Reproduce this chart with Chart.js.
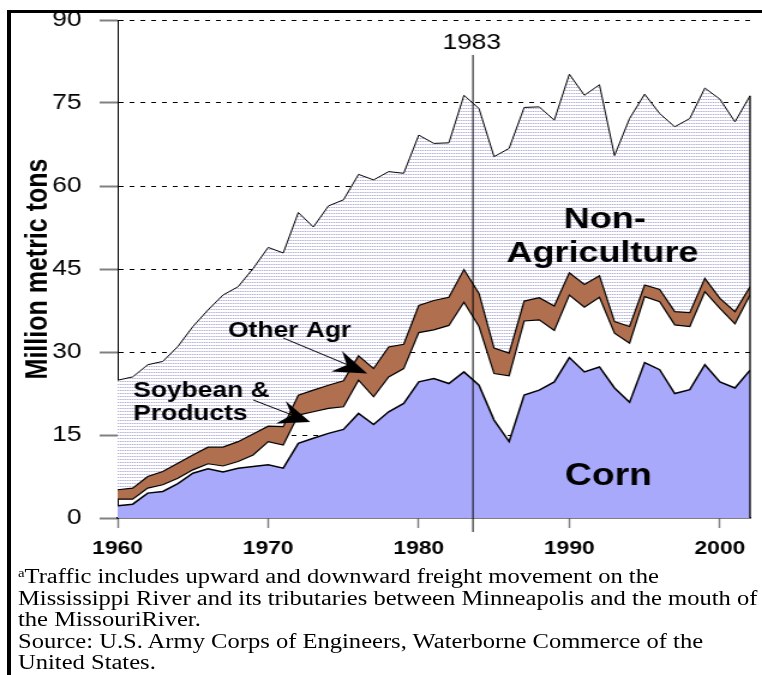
<!DOCTYPE html>
<html>
<head>
<meta charset="utf-8">
<script src="https://cdn.jsdelivr.net/npm/chart.js@4.4.1/dist/chart.umd.min.js"></script>
<style>
  body { margin: 0; background: #fff; }
  #wrap { position: relative; width: 762px; height: 675px; overflow: hidden; background: #fff; }
  #frame { position: absolute; left: 7px; top: 10px; right: -10px; bottom: -10px;
           border-left: 4px solid #000; border-top: 3px solid #000; pointer-events: none; }
  #note { position: absolute; left: 18px; top: 563px; white-space: nowrap;
          font: 20px "Liberation Serif", "Times New Roman", serif; line-height: 21.5px;
          transform-origin: 0 0; transform: scaleX(1.228); color: #000; }
  #note sup { font-size: 12px; vertical-align: 6px; }
  #chart { position: absolute; left: 0; top: 0; }
</style>
</head>
<body>
<div id="wrap">
  <!-- the source picture is stretched sideways, so the canvas is too -->
  <canvas id="chart" width="635" height="675" style="width:762px;height:675px"></canvas>
  <div id="frame"></div>
  <div id="note">
    <sup>a</sup>Traffic includes upward and downward freight movement on the<br>
    Mississippi River and its tributaries between Minneapolis and the mouth of<br>
    the MissouriRiver.<br>
    Source: U.S. Army Corps of Engineers, Waterborne Commerce of the<br>
    United States.
  </div>
</div>
<script>
// Years on the x axis
const years = [];
for (let yr = 1960; yr <= 2002; yr++) years.push(yr);

// Million metric tons, by category
const corn = [2.2, 2.5, 4.5, 4.8, 6.2, 8.1, 8.9, 8.3, 9.0, 9.3,
              9.6, 9.0, 13.5, 14.4, 15.3, 16.0, 18.9, 16.9, 19.2, 20.7,
              24.6, 25.2, 24.3, 26.4, 24.0, 17.7, 13.8, 22.2, 23.1, 24.6,
              29.0, 26.4, 27.3, 23.5, 20.9, 28.1, 26.8, 22.5, 23.2, 27.7,
              24.6, 23.5, 26.7];
const soybean = [1.2, 0.9, 0.9, 1.2, 1.0, 0.6, 0.9, 1.1, 1.2, 2.1,
                 4.2, 4.2, 5.1, 4.8, 4.5, 4.1, 6.0, 5.0, 6.3, 6.3,
                 8.9, 8.8, 10.5, 12.6, 10.6, 8.4, 11.9, 13.4, 12.7, 9.3,
                 11.3, 11.7, 12.6, 9.9, 10.7, 11.9, 12.3, 12.4, 11.4, 13.2,
                 13.3, 11.6, 13.6];
const otherAgr = [1.7, 2.0, 2.1, 2.4, 2.7, 2.7, 3.0, 3.4, 3.6, 3.8,
                  2.8, 3.3, 3.6, 3.9, 4.2, 4.7, 4.4, 5.1, 5.4, 4.4,
                  4.9, 5.3, 5.1, 5.9, 6.0, 4.6, 4.1, 3.6, 4.0, 4.4,
                  4.0, 4.1, 3.9, 2.1, 3.0, 2.1, 2.2, 2.4, 2.5, 2.4,
                  1.8, 2.2, 1.5];
const nonAg = [19.8, 20.1, 20.2, 19.9, 21.1, 23.2, 24.8, 27.5, 28.0, 29.9,
               32.3, 31.4, 33.0, 29.5, 32.4, 32.7, 32.8, 34.1, 31.7, 30.9,
               30.8, 28.4, 27.9, 31.5, 33.4, 34.6, 37.0, 35.0, 34.5, 33.6,
               35.9, 34.2, 34.5, 30.0, 37.6, 34.5, 31.8, 33.4, 35.1, 34.4,
               36.0, 34.3, 34.5];

const yTicks = [0, 15, 30, 45, 60, 75, 90];
const xTicks = [1960, 1970, 1980, 1990, 2000];
const markYear = 1983;

// dotted hatch for the non-agriculture band
function hatch() {
    const c = document.createElement('canvas');
    c.width = 2; c.height = 3;
    const g = c.getContext('2d');
    g.fillStyle = '#ffffff';
    g.fillRect(0, 0, 2, 3);
    g.fillStyle = '#b2b2dc';
    g.fillRect(0, 0, 1, 1);
    g.fillStyle = '#e4e4f2';
    g.fillRect(1, 0, 1, 1);
    return g.createPattern(c, 'repeat');
}

const sans = '"Liberation Sans", Arial, sans-serif';
const bold = (s) => 'bold ' + s + 'px ' + sans;

// filled arrow head given tip, two barbs and the notch
function head(ctx, pts) {
    ctx.beginPath();
    ctx.moveTo(pts[0][0], pts[0][1]);
    for (let i = 1; i < pts.length; i++) ctx.lineTo(pts[i][0], pts[i][1]);
    ctx.closePath();
    ctx.fill();
}

const annotate = {
    id: 'annotate',
    afterDatasetsDraw(chart) {
        const { ctx, scales: { x, y } } = chart;
        const last = years.length - 1;
        const top = corn[last] + soybean[last] + otherAgr[last] + nonAg[last];
        ctx.save();
        ctx.strokeStyle = '#000';
        ctx.fillStyle = '#000';

        // right edge of the stack
        const xr = x.getPixelForValue(years[last]);
        ctx.lineWidth = 1.3;
        ctx.beginPath();
        ctx.moveTo(xr, y.getPixelForValue(top));
        ctx.lineTo(xr, y.bottom);
        ctx.stroke();

        // 1983 marker
        const xm = x.getPixelForValue(markYear + 0.6);
        ctx.lineWidth = 1;
        ctx.beginPath();
        ctx.moveTo(xm, 55);
        ctx.lineTo(xm, y.bottom + 14);
        ctx.stroke();
        ctx.font = '22px ' + sans;
        ctx.textAlign = 'center';
        ctx.textBaseline = 'middle';
        ctx.fillText(String(markYear), xm - 1, 43);

        // band labels
        ctx.font = bold(30);
        ctx.fillText('Non-', 504, 220);
        ctx.fillText('Agriculture', 502, 254);
        ctx.font = bold(31);
        ctx.fillText('Corn', 507, 476);

        ctx.textAlign = 'left';
        ctx.font = bold(22);
        ctx.fillText('Other Agr', 190, 331);
        ctx.fillText('Soybean &', 111, 391);
        ctx.fillText('Products', 111, 414);

        // pointers
        ctx.lineWidth = 1;
        ctx.beginPath();
        ctx.moveTo(236, 338); ctx.lineTo(300, 370);
        ctx.moveTo(211, 400); ctx.lineTo(252, 419);
        ctx.stroke();
        head(ctx, [[306, 373.5], [285, 351], [289, 365], [276, 371.5]]);
        head(ctx, [[258.5, 422], [238, 401], [243, 415], [230, 423.5]]);
        ctx.restore();
    }
};

const black = '#000';
new Chart(document.getElementById('chart'), {
    type: 'line',
    data: {
        labels: years,
        datasets: [
            { label: 'Corn', data: corn, fill: 'origin', backgroundColor: '#a9a9fb',
              borderColor: black, borderWidth: 1.5 },
            { label: 'Soybean & Products', data: soybean, fill: false,
              borderColor: black, borderWidth: 1.2 },
            { label: 'Other Agr', data: otherAgr, fill: '-1', backgroundColor: '#b07050',
              borderColor: black, borderWidth: 1.2 },
            { label: 'Non-Agriculture', data: nonAg, fill: '-1', backgroundColor: hatch(),
              borderColor: black, borderWidth: 1 }
        ]
    },
    options: {
        responsive: false,
        animation: false,
        devicePixelRatio: 1,
        layout: { padding: { top: 20, right: 10, bottom: 117, left: 0 } },
        elements: { point: { radius: 0 }, line: { tension: 0 } },
        plugins: { legend: { display: false }, tooltip: { enabled: false } },
        scales: {
            x: {
                type: 'linear',
                min: years[0],
                max: years[years.length - 1],
                afterBuildTicks: (s) => { s.ticks = xTicks.map(v => ({ value: v })); },
                afterFit: (s) => { s.height = 40; s.paddingLeft = 0; s.paddingRight = 0; },
                grid: { drawOnChartArea: false, drawTicks: true, tickLength: 10,
                        tickColor: '#808080', tickWidth: 1.5 },
                border: { display: true, color: black, width: 1.5 },
                ticks: { color: black, padding: 9, font: { family: sans, size: 19, weight: 'bold' },
                         callback: (v) => String(v) }
            },
            y: {
                stacked: true,
                min: 0,
                max: 90,
                afterBuildTicks: (s) => { s.ticks = yTicks.map(v => ({ value: v })); },
                afterFit: (s) => { s.width = 98; s.paddingTop = 0; s.paddingBottom = 0; },
                grid: { color: (c) => c.tick && c.tick.value === 0 ? 'rgba(0,0,0,0)' : black,
                        lineWidth: 1, tickLength: 15, tickColor: '#808080', tickWidth: 2 },
                border: { display: true, color: black, width: 1, dash: [4, 5] },
                ticks: { color: black, padding: 15, font: { family: sans, size: 22 } },
                title: { display: true, text: 'Million metric tons', color: black,
                         font: { family: sans, size: 25, weight: 'bold' },
                         padding: { top: 17, bottom: 0 } }
            }
        }
    },
    plugins: [annotate]
});
</script>
</body>
</html>
